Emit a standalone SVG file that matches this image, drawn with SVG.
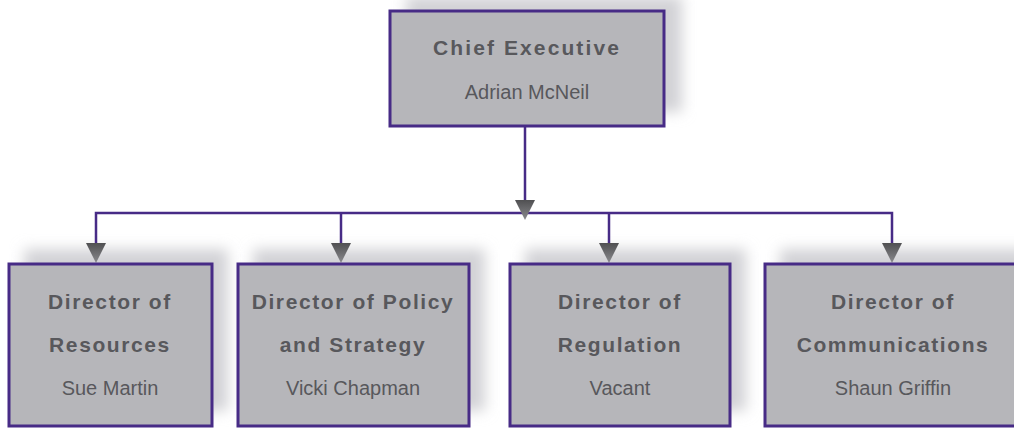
<svg xmlns="http://www.w3.org/2000/svg" width="1014" height="428" viewBox="0 0 1014 428">
<defs>
<filter id="sh" x="-30%" y="-40%" width="160%" height="180%">
<feGaussianBlur stdDeviation="7"/>
</filter>
<linearGradient id="ag" x1="0" y1="0" x2="0" y2="1">
<stop offset="0" stop-color="#505052"/>
<stop offset="1" stop-color="#8a8a8e"/>
</linearGradient>
<style>
.shadow{fill:#d2d2d6;filter:url(#sh)}
.box{fill:#b6b6ba;stroke:#472b86;stroke-width:3}
.t{font-family:"Liberation Sans",Arial,sans-serif;font-weight:bold;font-size:21px;letter-spacing:1.6px;fill:#58585c;text-anchor:middle}
.n{font-family:"Liberation Sans",Arial,sans-serif;font-size:20px;fill:#58585c;text-anchor:middle}
.ln{fill:none;stroke:#472b86;stroke-width:2.5}
.ah{fill:url(#ag)}
</style>
</defs>
<g id="shadows">
<rect class="shadow" x="406" y="-4" width="276" height="116"/>
<rect class="shadow" x="24" y="249" width="204" height="162"/>
<rect class="shadow" x="253" y="249" width="232" height="162"/>
<rect class="shadow" x="525" y="249" width="221" height="162"/>
<rect class="shadow" x="780" y="249" width="258" height="162"/>
</g>
<g id="connectors">
<path class="ln" d="M525 126 V213"/>
<path class="ln" d="M96 243 V213 H892 V243"/>
<path class="ln" d="M341 213 V243"/>
<path class="ln" d="M609 213 V243"/>
<polygon class="ah" points="515,200 535,200 525,220"/>
<polygon class="ah" points="86,243 106,243 96,263"/>
<polygon class="ah" points="331,243 351,243 341,263"/>
<polygon class="ah" points="599,243 619,243 609,263"/>
<polygon class="ah" points="882,243 902,243 892,263"/>
</g>
<g id="chief">
<rect class="box" x="390" y="11" width="274" height="115"/>
<text class="t" x="527" y="55" style="letter-spacing:2.1px">Chief Executive</text>
<text class="n" x="527" y="99">Adrian McNeil</text>
</g>
<g id="resources">
<rect class="box" x="9" y="264" width="203" height="162"/>
<text class="t" x="110" y="309">Director of</text>
<text class="t" x="110" y="352">Resources</text>
<text class="n" x="110" y="395">Sue Martin</text>
</g>
<g id="policy">
<rect class="box" x="238" y="264" width="231" height="162"/>
<text class="t" x="353" y="309">Director of Policy</text>
<text class="t" x="353" y="352">and Strategy</text>
<text class="n" x="353" y="395">Vicki Chapman</text>
</g>
<g id="regulation">
<rect class="box" x="510" y="264" width="220" height="162"/>
<text class="t" x="620" y="309">Director of</text>
<text class="t" x="620" y="352">Regulation</text>
<text class="n" x="620" y="395">Vacant</text>
</g>
<g id="communications">
<rect class="box" x="765" y="264" width="258" height="162"/>
<text class="t" x="893" y="309">Director of</text>
<text class="t" x="893" y="352">Communications</text>
<text class="n" x="893" y="395">Shaun Griffin</text>
</g>
</svg>
